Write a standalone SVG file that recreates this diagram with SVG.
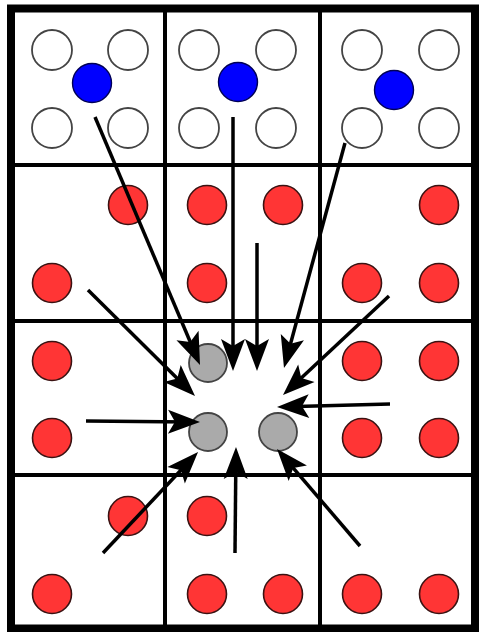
<svg xmlns="http://www.w3.org/2000/svg" width="479" height="632" viewBox="0 0 479 632">
<style>
.grid{fill:none;stroke:#000;stroke-width:4}
.frame{fill:none;stroke:#000;stroke-width:8}
.w{fill:#fff;stroke:#444;stroke-width:1.8}
.b{fill:#0000ff;stroke:#000055;stroke-width:1.4}
.r{fill:#ff3535;stroke:#3a1212;stroke-width:1.6}
.g{fill:#aaaaaa;stroke:#444;stroke-width:1.8}
.arr{fill:none;stroke:#000;stroke-width:3.5;marker-end:url(#ah)}
</style>
<defs>
<marker id="ah" markerUnits="userSpaceOnUse" viewBox="0 -13 34 26" refX="22" refY="0" markerWidth="34" markerHeight="26" orient="auto" overflow="visible">
<path d="M0,-12 L32,0 L0,12 L7,0 Z" fill="#000"/>
</marker>
</defs>
<rect width="479" height="632" fill="#fff"/>
<g id="grid">
<line class="grid" x1="165" y1="8" x2="165" y2="628"/>
<line class="grid" x1="320" y1="8" x2="320" y2="628"/>
<line class="grid" x1="11" y1="165" x2="475" y2="165"/>
<line class="grid" x1="11" y1="321" x2="475" y2="321"/>
<line class="grid" x1="11" y1="475" x2="475" y2="475"/>
<rect class="frame" x="11" y="8.5" width="464" height="620"/>
</g>
<g id="nodes">
<g id="w1"><circle class="w" cx="52" cy="50" r="20"/></g>
<g id="w2"><circle class="w" cx="128" cy="50" r="20"/></g>
<g id="w3"><circle class="w" cx="52" cy="128" r="20"/></g>
<g id="w4"><circle class="w" cx="128" cy="128" r="20"/></g>
<g id="b1"><circle class="b" cx="92" cy="83" r="19.5"/></g>
<g id="w5"><circle class="w" cx="199" cy="50" r="20"/></g>
<g id="w6"><circle class="w" cx="276" cy="50" r="20"/></g>
<g id="w7"><circle class="w" cx="199" cy="128" r="20"/></g>
<g id="w8"><circle class="w" cx="276" cy="128" r="20"/></g>
<g id="b2"><circle class="b" cx="238" cy="82" r="19.5"/></g>
<g id="w9"><circle class="w" cx="362" cy="50" r="20"/></g>
<g id="w10"><circle class="w" cx="439" cy="50" r="20"/></g>
<g id="w11"><circle class="w" cx="362" cy="128" r="20"/></g>
<g id="w12"><circle class="w" cx="439" cy="128" r="20"/></g>
<g id="b3"><circle class="b" cx="394" cy="90" r="19.5"/></g>
<g id="r1"><circle class="r" cx="128" cy="205" r="19.5"/></g>
<g id="r2"><circle class="r" cx="52" cy="283" r="19.5"/></g>
<g id="r3"><circle class="r" cx="207" cy="205" r="19.5"/></g>
<g id="r4"><circle class="r" cx="207" cy="283" r="19.5"/></g>
<g id="r5"><circle class="r" cx="283" cy="205" r="19.5"/></g>
<g id="r6"><circle class="r" cx="439" cy="205" r="19.5"/></g>
<g id="r7"><circle class="r" cx="362" cy="283" r="19.5"/></g>
<g id="r8"><circle class="r" cx="439" cy="283" r="19.5"/></g>
<g id="r9"><circle class="r" cx="52" cy="361" r="19.5"/></g>
<g id="r10"><circle class="r" cx="52" cy="438" r="19.5"/></g>
<g id="g1"><circle class="g" cx="208" cy="363" r="19"/></g>
<g id="g2"><circle class="g" cx="208" cy="432" r="19"/></g>
<g id="g3"><circle class="g" cx="278" cy="432" r="19"/></g>
<g id="r11"><circle class="r" cx="362" cy="361" r="19.5"/></g>
<g id="r12"><circle class="r" cx="439" cy="361" r="19.5"/></g>
<g id="r13"><circle class="r" cx="362" cy="438" r="19.5"/></g>
<g id="r14"><circle class="r" cx="439" cy="438" r="19.5"/></g>
<g id="r15"><circle class="r" cx="128" cy="516" r="19.5"/></g>
<g id="r16"><circle class="r" cx="52" cy="594" r="19.5"/></g>
<g id="r17"><circle class="r" cx="207" cy="516" r="19.5"/></g>
<g id="r18"><circle class="r" cx="207" cy="594" r="19.5"/></g>
<g id="r19"><circle class="r" cx="283" cy="594" r="19.5"/></g>
<g id="r20"><circle class="r" cx="362" cy="594" r="19.5"/></g>
<g id="r21"><circle class="r" cx="439" cy="594" r="19.5"/></g>
</g>
<g id="connectors">
<line class="arr" x1="95" y1="117" x2="196.1" y2="355.8"/>
<line class="arr" x1="233" y1="117" x2="233" y2="361"/>
<line class="arr" x1="257" y1="243" x2="257" y2="361"/>
<line class="arr" x1="345" y1="143" x2="286.6" y2="358.3"/>
<line class="arr" x1="389" y1="296" x2="290.3" y2="388.2"/>
<line class="arr" x1="390" y1="404" x2="287" y2="406.7"/>
<line class="arr" x1="88" y1="290" x2="187.9" y2="389"/>
<line class="arr" x1="86" y1="421" x2="190" y2="421.9"/>
<line class="arr" x1="103" y1="553" x2="191.2" y2="459.3"/>
<line class="arr" x1="235" y1="553" x2="235.9" y2="457"/>
<line class="arr" x1="360" y1="546" x2="283.5" y2="456.6"/>
</g>
</svg>
